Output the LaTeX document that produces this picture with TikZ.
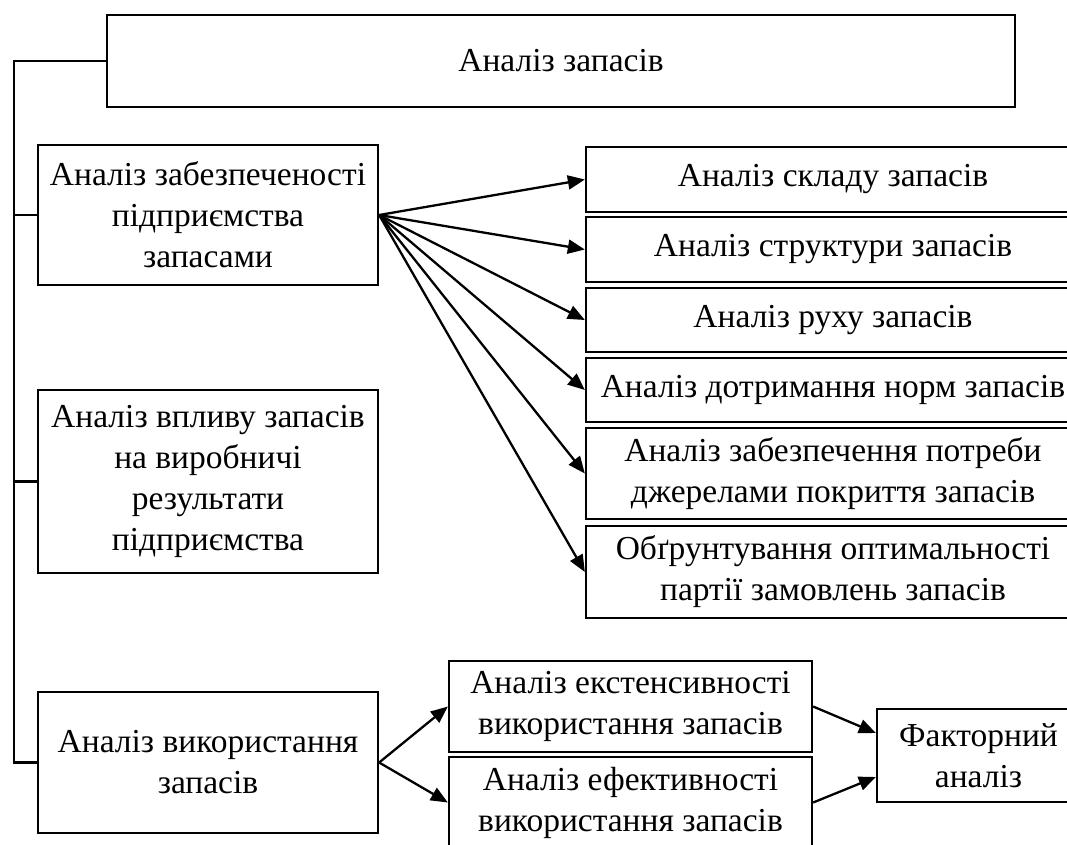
\documentclass[tikz,border=0pt]{standalone}
\usepackage{fontspec}
\setmainfont{Liberation Serif}
\usetikzlibrary{arrows.meta}
\tikzset{
  box/.style={draw=black, line width=2.3pt, fill=white, align=center, inner sep=0pt,
    font=\fontsize{33.5}{41}\selectfont},
  conn/.style={draw=black, line width=2.3pt},
  arr/.style={conn, -{Triangle[length=17pt,width=14pt]}},
}
\begin{document}
\begin{tikzpicture}[x=1pt,y=-1pt]
\useasboundingbox (0,0) rectangle (1067,844);
\fill[white] (0,0) rectangle (1067,844);
\clip (0,0) rectangle (1067,844);

% main box
\node[box, minimum width=908pt, minimum height=92pt] (top) at (561,61) {Аналіз запасів};

% left column
\node[box, minimum width=340pt, minimum height=140pt] (L1) at (208,215)
  {Аналіз забезпеченості\\підприємства\\запасами};
\node[box, minimum width=340pt, minimum height=183pt] (L2) at (208,481.5)
  {Аналіз впливу запасів\\на виробничі\\результати\\підприємства};
\node[box, minimum width=340pt, minimum height=141pt] (L3) at (208,762.5)
  {Аналіз використання\\запасів};

% right column
\node[box, minimum width=494pt, minimum height=65pt] (R1) at (833,179.5) {Аналіз складу запасів};
\node[box, minimum width=494pt, minimum height=65pt] (R2) at (833,249.5) {Аналіз структури запасів};
\node[box, minimum width=494pt, minimum height=64pt] (R3) at (833,320) {Аналіз руху запасів};
\node[box, minimum width=494pt, minimum height=64pt] (R4) at (833,390) {Аналіз дотримання норм запасів};
\node[box, minimum width=494pt, minimum height=91pt] (R5) at (833,473.5)
  {Аналіз забезпечення потреби\\джерелами покриття запасів};
\node[box, minimum width=494pt, minimum height=92pt] (R6) at (833,572)
  {Обґрунтування оптимальності\\партії замовлень запасів};

% bottom
\node[box, minimum width=363pt, minimum height=91pt] (B1) at (630.5,706.5)
  {Аналіз екстенсивності\\використання запасів};
\node[box, minimum width=363pt, minimum height=91pt] (B2) at (630.5,802.5)
  {Аналіз ефективності\\використання запасів};
\node[box, minimum width=203pt, minimum height=93pt] (F) at (978.5,755.5)
  {Факторний\\аналіз};

% spine
\coordinate (spine) at (14,61);
\draw[conn] (top.west) -- (spine) |- (L3.west);
\draw[conn] (L1.west) -- (L1.west -| spine);
\draw[conn] (L2.west) -- (L2.west -| spine);

% fan arrows
\foreach \r in {R1,R2,R3,R4,R5,R6}
  \draw[arr] (L1.east) -- (\r.west);

% bottom arrows
\draw[arr] (L3.east) -- (B1.west);
\draw[arr] (L3.east) -- (B2.west);
\draw[arr] (B1.east) -- ([yshift=22.5pt]F.west);
\draw[arr] (B2.east) -- ([yshift=-21.5pt]F.west);
\end{tikzpicture}
\end{document}
